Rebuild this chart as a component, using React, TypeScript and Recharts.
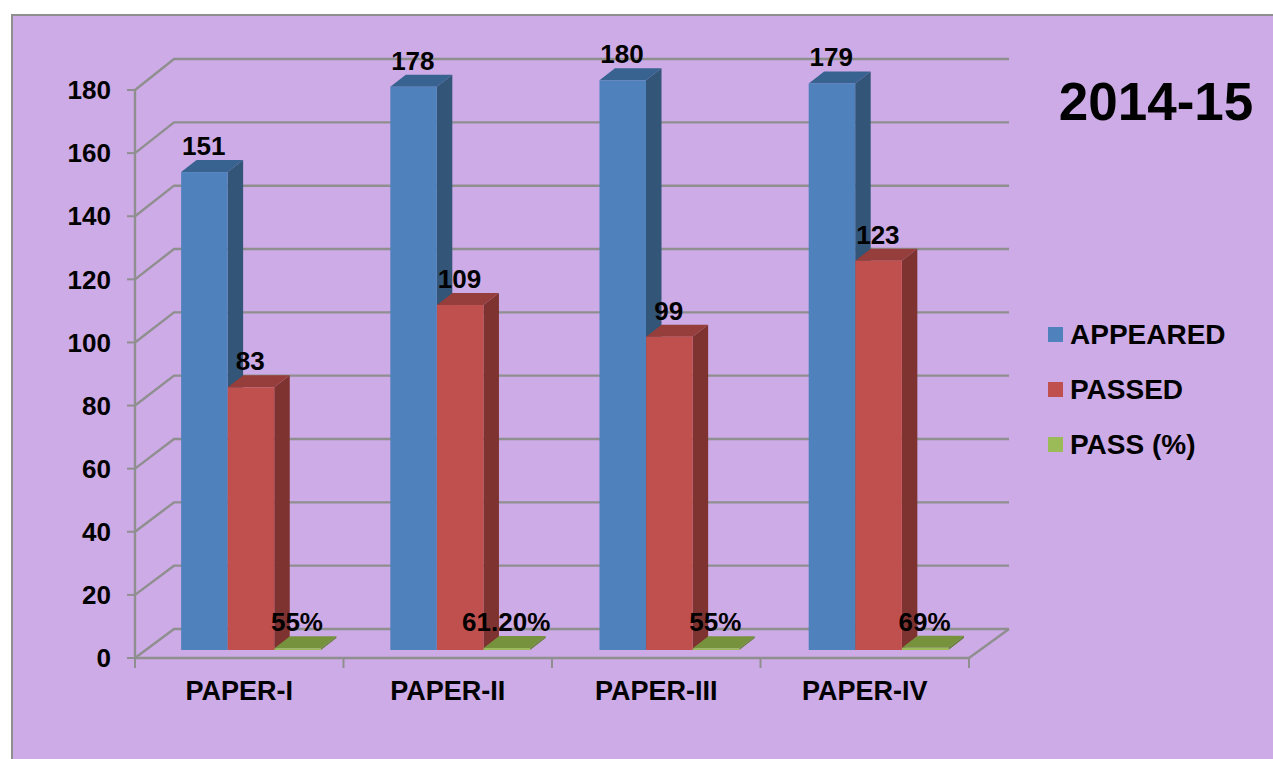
import React from "react";
import { BarChart, Bar, XAxis, YAxis, CartesianGrid, Legend, LabelList } from "recharts";

const categories = ["PAPER-I", "PAPER-II", "PAPER-III", "PAPER-IV"];
const appeared = [151, 178, 180, 179];
const passed = [83, 109, 99, 123];
const passPercent = [0.55, 0.612, 0.55, 0.69];
const passLabels = ["55%", "61.20%", "55%", "69%"];
const yTicks = [0, 20, 40, 60, 80, 100, 120, 140, 160, 180];

const rows = categories.map((name, i) => ({
  name,
  appeared: appeared[i],
  passed: passed[i],
  pass: passPercent[i],
  passLabel: passLabels[i],
}));

const FONT = '"Liberation Sans", Arial, sans-serif';
const BG = "#CDABE6";
const GREY = "#8F8F8F";
const PLOT_LEFT = 135;
const PLOT_RIGHT = 969;
const PLOT_BOTTOM = 658;
const BAND = (PLOT_RIGHT - PLOT_LEFT) / categories.length;
const BAR_SHIFT_X = 11;
const BAR_SHIFT_Y = -8;
const BAR_STRETCH_Y = 1.003;
const BAR_STRETCH_X = 1.0033;
const DEPTH_X = 15.5;
const DEPTH_Y = 12;
const WALL_X = 39;
const WALL_Y = 29;

const placeX = (x: number) => PLOT_LEFT + (x - PLOT_LEFT) * BAR_STRETCH_X + BAR_SHIFT_X;

const faces = (front: string, side: string, top: string) => (props: any) => {
  const x = placeX(props.x);
  const w = props.width;
  const base = props.y + props.height + BAR_SHIFT_Y;
  const t = base - props.height * BAR_STRETCH_Y;
  return (
    <g>
      <polygon
        points={`${x + w},${base} ${x + w},${t} ${x + w + DEPTH_X},${t - DEPTH_Y} ${x + w + DEPTH_X},${base - DEPTH_Y}`}
        fill={side}
      />
      <polygon
        points={`${x},${t} ${x + DEPTH_X},${t - DEPTH_Y} ${x + w + DEPTH_X},${t - DEPTH_Y} ${x + w},${t}`}
        fill={top}
      />
      <rect x={x} y={t} width={w} height={Math.max(base - t, 0)} fill={front} />
    </g>
  );
};

const barLabel = (props: any) => {
  const { x, y, width, height, value } = props;
  const base = y + height + BAR_SHIFT_Y;
  const t = base - height * BAR_STRETCH_Y;
  return (
    <text
      x={placeX(x) + width / 2 - 0.7}
      y={t - 17}
      textAnchor="middle"
      fontFamily={FONT}
      fontWeight="bold"
      fontSize={26}
      fill="#000"
    >
      {value}
    </text>
  );
};

const gridLine = (props: any) => {
  const { x1, x2, y1 } = props;
  const backY = y1 - WALL_Y - (PLOT_BOTTOM - y1) * 0.0035;
  return (
    <path
      key={`grid-${y1}`}
      d={`M${x1},${y1} L${x1 + WALL_X},${backY} L${x2 + WALL_X + 1},${backY}`}
      fill="none"
      stroke={GREY}
      strokeWidth={2.4}
    />
  );
};

const xTick = (props: any) => {
  const { x, payload, index } = props;
  const left = x - BAND / 2;
  const right = x + BAND / 2;
  const axisY = PLOT_BOTTOM;
  return (
    <g>
      <line x1={left} x2={left} y1={axisY} y2={axisY + 10} stroke={GREY} strokeWidth={2} />
      {index === categories.length - 1 && (
        <line x1={right} x2={right} y1={axisY} y2={axisY + 10} stroke={GREY} strokeWidth={2} />
      )}
      <text x={x} y={axisY + 42} textAnchor="middle" fontFamily={FONT} fontWeight="bold" fontSize={27} fill="#000">
        {payload.value}
      </text>
    </g>
  );
};

const legendContent = (props: any) => (
  <div style={{ fontFamily: FONT, fontWeight: "bold", fontSize: 28, color: "#000" }}>
    {props.payload.map((item: any) => (
      <div key={item.value} style={{ display: "flex", alignItems: "center", height: 55 }}>
        <span style={{ width: 15, height: 15, background: item.color, marginRight: 7 }} />
        <span>{item.value}</span>
      </div>
    ))}
  </div>
);

export default function App() {
  return (
    <div style={{ position: "absolute", left: 0, top: 0, width: 1273, height: 759, background: "#fff", overflow: "hidden" }}>
      <div
        style={{
          position: "absolute",
          left: 11,
          top: 14,
          width: 1262,
          height: 745,
          boxSizing: "border-box",
          background: BG,
          borderLeft: `2px solid ${GREY}`,
          borderTop: `2px solid ${GREY}`,
        }}
      />
      <div style={{ position: "absolute", left: 0, top: 0 }}>
        <BarChart
          width={1273}
          height={759}
          data={rows}
          margin={{ top: 90, right: 304, left: 0, bottom: 0 }}
          barSize={46.5}
          barGap={0}
        >
          <CartesianGrid vertical={false} horizontal={gridLine} />
          <XAxis
            dataKey="name"
            height={101}
            interval={0}
            tickLine={false}
            tick={xTick}
            axisLine={{ stroke: GREY, strokeWidth: 2.4 }}
          />
          <YAxis
            width={135}
            domain={[0, 180]}
            ticks={yTicks}
            interval={0}
            tickSize={8}
            tickMargin={16}
            tick={{ fontFamily: FONT, fontWeight: "bold", fontSize: 26, fill: "#000" }}
            axisLine={{ stroke: GREY, strokeWidth: 2.4 }}
            tickLine={{ stroke: GREY, strokeWidth: 2 }}
          />
          <Legend
            layout="vertical"
            align="center"
            verticalAlign="middle"
            itemSorter={null}
            content={legendContent}
            wrapperStyle={{ left: 1048, top: 307, width: 220, height: 165 }}
          />
          <Bar dataKey="appeared" name="APPEARED" fill="#4F81BD" isAnimationActive={false} shape={faces("#4F81BD", "#325578", "#38628F")}>
            <LabelList dataKey="appeared" content={barLabel} />
          </Bar>
          <Bar dataKey="passed" name="PASSED" fill="#C0504D" isAnimationActive={false} shape={faces("#C0504D", "#7E3331", "#953E3B")}>
            <LabelList dataKey="passed" content={barLabel} />
          </Bar>
          <Bar dataKey="pass" name="PASS (%)" fill="#9BBB59" isAnimationActive={false} shape={faces("#9BBB59", "#66803A", "#76923C")}>
            <LabelList dataKey="passLabel" content={barLabel} />
          </Bar>
          <path d={`M${PLOT_RIGHT},${PLOT_BOTTOM} L${PLOT_RIGHT + WALL_X + 1},${PLOT_BOTTOM - WALL_Y}`} stroke={GREY} strokeWidth={2.4} fill="none" />
          <text x={1156} y={120} textAnchor="middle" fontFamily={FONT} fontWeight="bold" fontSize={53} fill="#000">
            2014-15
          </text>
        </BarChart>
      </div>
    </div>
  );
}
